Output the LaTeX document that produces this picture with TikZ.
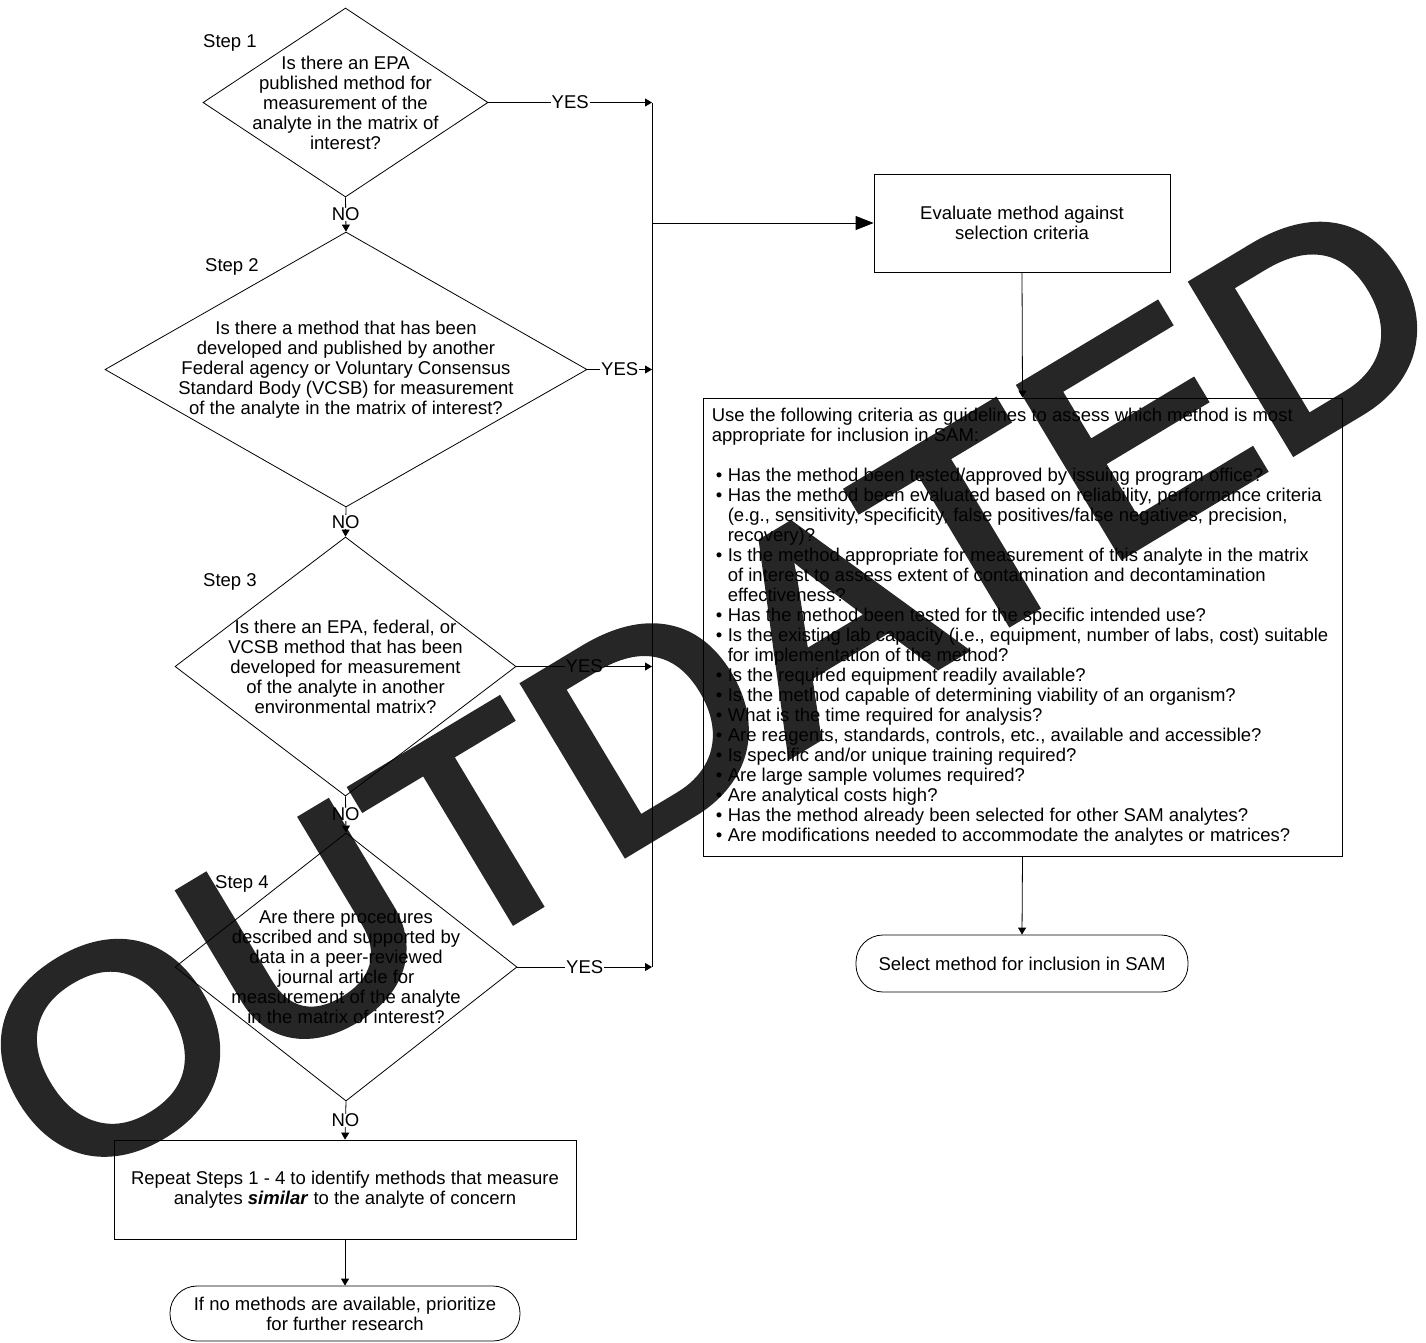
\documentclass[tikz,border=0pt]{standalone}
\usepackage{fontspec}
\setmainfont{Liberation Sans}
\newfontfamily\stampfont{Liberation Sans}[FakeBold=3]
\usetikzlibrary{shapes.geometric,arrows.meta,positioning}

\tikzset{
  txt/.style={font=\fontsize{18.5}{20}\selectfont, align=center, inner sep=0pt},
  decision/.style={draw, diamond, inner sep=0pt, line width=0.8pt},
  process/.style={draw, rectangle, line width=0.8pt},
  terminal/.style={draw, rectangle, rounded corners=27pt, line width=0.8pt},
  arr/.style={line width=0.8pt, -{Triangle[length=7pt,width=8pt]}},
  bigarr/.style={line width=0.8pt, -{Triangle[length=18pt,width=14pt]}},
  lbl/.style={txt, fill=white, inner xsep=1pt},
  steplbl/.style={txt, anchor=west},
  stamp/.style={font=\stampfont\fontsize{285}{285}\selectfont, text=black, rotate=31, xscale=1.055, inner sep=0pt},
}
\newcommand{\bul}{\makebox[16pt][l]{\hspace{4pt}\textbullet}}
\newcommand{\cont}{\makebox[16pt]{}}

\begin{document}
\begin{tikzpicture}[x=1pt, y=-1pt]
        \useasboundingbox (0,0) rectangle (1426,1342);

        % Rombi di decisione
        \node[decision, minimum width=285pt, minimum height=189pt] (d1) at (345.5,102.5) {};
        \node[txt] (q1) at (d1.center) {Is there an EPA\\published method for\\measurement of the\\analyte in the matrix of\\interest?};
        \node[steplbl] (s1) at (203,43) {Step 1};

        \node[decision, minimum width=482pt, minimum height=275pt] (d2) at (346,369.5) {};
        \node[txt] (q2) at (d2.center) {Is there a method that has been\\developed and published by another\\Federal agency or Voluntary Consensus\\Standard Body (VCSB) for measurement\\of the analyte in the matrix of interest?};
        \node[steplbl] (s2) at (205,267) {Step 2};

        \node[decision, minimum width=341pt, minimum height=259pt] (d3) at (345.5,666.5) {};
        \node[txt] (q3) at (d3.center) {Is there an EPA, federal, or\\VCSB method that has been\\developed for measurement\\of the analyte in another\\environmental matrix?};
        \node[steplbl] (s3) at (203,582) {Step 3};

        \node[decision, minimum width=342pt, minimum height=268pt] (d4) at (346,967) {};
        \node[txt] (q4) at (d4.center) {Are there procedures\\described and supported by\\data in a peer-reviewed\\journal article for\\measurement of the analyte\\in the matrix of interest?};
        \node[steplbl] (s4) at (215,884) {Step 4};

        % Riquadri e terminali
        \node[process, minimum width=296pt, minimum height=98pt] (eval) at (1022,223) {};
        \node[txt] (evaltxt) at (eval.center) {Evaluate method against\\selection criteria};

        \node[process, minimum width=639pt, minimum height=458pt] (crit) at (1022.5,627) {};
        \node[txt, align=left, anchor=west] (crittxt) at ([xshift=9pt]crit.west) {Use the following criteria as guidelines to assess which method is most\\
appropriate for inclusion in SAM:\\[20pt]
\bul Has the method been tested/approved by issuing program office?\\
\bul Has the method been evaluated based on reliability, performance criteria\\
\cont (e.g., sensitivity, specificity, false positives/false negatives, precision,\\
\cont recovery)?\\
\bul Is the method appropriate for measurement of this analyte in the matrix\\
\cont of interest to assess extent of contamination and decontamination\\
\cont effectiveness?\\
\bul Has the method been tested for the specific intended use?\\
\bul Is the existing lab capacity (i.e., equipment, number of labs, cost) suitable\\
\cont for implementation of the method?\\
\bul Is the required equipment readily available?\\
\bul Is the method capable of determining viability of an organism?\\
\bul What is the time required for analysis?\\
\bul Are reagents, standards, controls, etc., available and accessible?\\
\bul Is specific and/or unique training required?\\
\bul Are large sample volumes required?\\
\bul Are analytical costs high?\\
\bul Has the method already been selected for other SAM analytes?\\
\bul Are modifications needed to accommodate the analytes or matrices?};

        \node[terminal, minimum width=332pt, minimum height=57pt] (select) at (1022,963.5) {};
        \node[txt] (selecttxt) at (select.center) {Select method for inclusion in SAM};

        \node[process, minimum width=462pt, minimum height=99pt] (repeat) at (345,1189.5) {};
        \node[txt] (repeattxt) at (repeat.center) {Repeat Steps 1 - 4 to identify methods that measure\\analytes \textbf{\textit{similar}} to the analyte of concern};

        \node[terminal, minimum width=350pt, minimum height=55pt] (research) at (345,1313.5) {};
        \node[txt] (researchtxt) at (research.center) {If no methods are available, prioritize\\for further research};

        % Collettore verticale
        \coordinate (bustop) at (652,102.5);
        \coordinate (busbot) at (652,967);
        \draw[line width=0.8pt] (bustop) -- (busbot);

        % Frecce SI / NO
        \draw[arr] (d1.east) -- node[lbl] {YES} (d1.east -| bustop);
        \draw[arr] (d2.east) -- node[lbl] {YES} (d2.east -| bustop);
        \draw[arr] (d3.east) -- node[lbl] {YES} (d3.east -| bustop);
        \draw[arr] (d4.east) -- node[lbl] {YES} (d4.east -| bustop);

        \draw[arr] (d1.south) -- node[lbl] {NO} (d2.north);
        \draw[arr] (d2.south) -- node[lbl] {NO} (d3.north);
        \draw[arr] (d3.south) -- node[lbl] {NO} (d4.north);
        \draw[arr] (d4.south) -- node[lbl] {NO} (repeat.north);
        \draw[arr] (repeat.south) -- (research.north);

        \draw[bigarr] (bustop |- eval.west) -- (eval.west);
        \draw[arr] (eval.south) -- (crit.north);
        \draw[arr] (crit.south) -- (select.north);

        % Timbro
        \begin{scope}[transparency group, opacity=0.85]
          \node[stamp] (wm) at (710,688) {OUTDATED};
        \end{scope}
    \end{tikzpicture}
\end{document}
